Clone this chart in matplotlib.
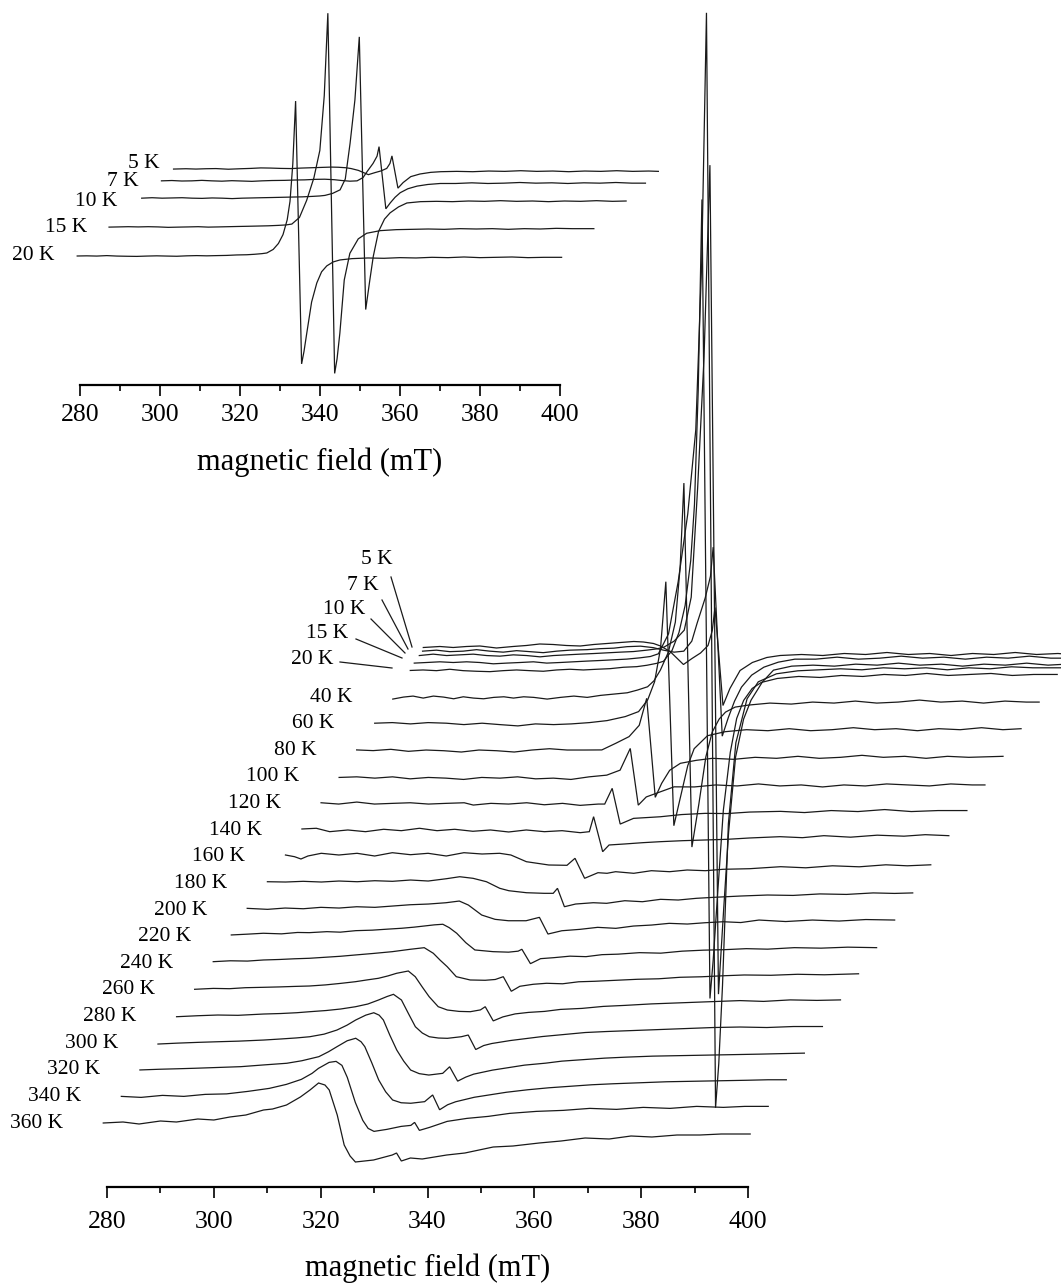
import numpy as np
import matplotlib.pyplot as plt

plt.rcParams['font.family'] = ['Liberation Serif', 'DejaVu Serif']

# ============================================================
# Spectra: (field in mT, signal in a.u.)
# field is the trace's own field, before the waterfall shift
# ============================================================
T5 = [(279.2, 3), (282.3, 4), (284.8, 3), (287.3, 4), (289.8, 4.5), (292.9, 2.5), (296, 4), (298.5, 5),
      (301, 6.5), (303.5, 6), (306, 5), (308.6, 4.5), (311.1, 6), (313.6, 7), (316.1, 8), (318.6, 9),
      (320.4, 8.5), (322.3, 7), (323.6, 4.5), (325.4, -1), (327.9, -14), (329.5, -8), (331.1, -2.5),
      (332.5, 5), (333.3, 20), (333.8, 43), (335.3, -55), (336.6, -38), (338.5, -20), (340.8, -12),
      (343.5, -7), (346, -5), (350, -4), (354, -5), (358, -3), (362, -4), (366, -2), (370, -4), (374, -3),
      (378, -5), (382, -3), (386, -4), (390, -2), (394, -4), (398, -3), (400.4, -4)]
T7 = [(279.4, 2), (282, 3), (284.5, 1.5), (287, 2), (289.5, 3.5), (292, 2), (294.5, 1), (297, 2.5),
      (299.5, 1.5), (302, 0.5), (304.5, 2), (307, 3), (310.2, 3.5), (312.7, 4.5), (315.2, 5), (317.7, 6.5),
      (320.2, 7), (322.6, 5.5), (324.5, 3), (326.5, 1), (328.3, 2), (329.8, 12), (330.8, 30), (332.3, 55),
      (333.3, 77), (333.8, 106), (335.5, -83), (336.6, -65), (337.8, -48), (339.1, -34), (341, -22),
      (343.3, -14), (346, -9), (349.1, -6), (353, -6), (357, -4), (361, -6), (365, -5), (369, -3), (373, -5),
      (377, -4), (381, -6), (385, -4), (389, -5), (393, -3), (397, -5), (400.4, -5)]
T10 = [(279.3, 1.6), (281.9, 3), (284.4, 1.6), (286.9, 2.3), (289.4, 3), (291.9, 1.6), (294.4, 1),
       (296.9, 2.3), (299.4, 1.6), (301.9, 0.3), (304.4, 1.6), (306.9, 2.3), (309.4, 3), (311.9, 3.6),
       (314.4, 4.3), (316.9, 5), (319.4, 5.6), (321.9, 7), (323.8, 8.3), (325.1, 10), (327, 16), (328.9, 27),
       (330.2, 60), (331.4, 169), (332.6, 300), (333.7, 492), (335.3, -337), (336.3, -250), (337.2, -175),
       (338.5, -100), (340, -62), (341.4, -43), (343.5, -25), (345.6, -13), (349, -9), (353, -8), (357, -9),
       (361, -7), (365, -8), (369, -6), (373, -8), (377, -7), (381, -9), (385, -7), (389, -8), (393, -6),
       (397, -8), (400.4, -7)]
T15 = [(279.2, 0.7), (281.5, 1.3), (284, 2), (286.5, 1.3), (289, 2), (291.5, 1.3), (294, 0), (296.5, 0.7),
       (299, 1.3), (301.5, 2), (304, 0.7), (306.5, 1.3), (309, 2), (311.5, 2.7), (314, 3.3), (316.5, 4),
       (319, 4.7), (321.5, 6), (323.4, 7.3), (324.9, 10), (326.8, 30), (328.6, 82), (330.4, 150),
       (331.9, 234), (333, 400), (333.9, 651), (335.6, -444), (336.2, -400), (336.9, -322), (338, -160),
       (339.4, -79), (341.5, -35), (343.6, -18), (347, -10), (351, -7), (355, -6), (359, -5), (363, -6),
       (367, -4), (371, -5), (375, -4), (379, -6), (383, -4), (387, -5), (391, -3), (395, -4), (400.4, -4)]
T20 = [(279.3, 0), (281.7, 0.5), (284.2, -0.2), (286.7, 1.2), (289.2, -0.2), (291.7, -0.8), (294.2, -1.2),
       (296.7, -0.2), (299.2, 0.5), (301.7, -0.2), (304.2, -0.8), (306.7, 0.5), (309.2, 1.2), (311.7, 0.5),
       (314.2, 1.2), (316.7, 1.8), (319.2, 3.2), (321.7, 3.8), (323.6, 5.2), (325.5, 7.2), (326.7, 9.2),
       (328.3, 20), (329.6, 38), (330.75, 65), (331.8, 110), (332.5, 166), (333.2, 280), (333.9, 471),
       (335.4, -328), (336, -290), (336.7, -234), (337.9, -140), (339.2, -82), (340.4, -48), (341.7, -30),
       (343.3, -18), (345, -12), (348, -8), (352, -6), (356, -7), (360, -5), (364, -6), (368, -4), (372, -5),
       (376, -3), (380, -5), (384, -4), (388, -3), (392, -5), (396, -4), (400.4, -4)]
T40 = [(279.4, -2), (281.4, 0), (283.2, 1), (285.1, -1), (287, 1), (288.9, 0), (290.8, -1.7), (292.6, 0.3),
       (294.5, -1), (296.4, -1.7), (298.3, -0.3), (300.2, 0.3), (302, -1), (303.9, 0.3), (305.8, -0.3),
       (308.3, -2), (310.8, -0.3), (313.3, 1), (315.8, -0.3), (318.3, 1.7), (320.8, 3), (323.3, 4.3),
       (325.2, 7), (327.1, 10.3), (328.3, 16.3), (329.5, 27), (331, 45), (332.3, 75), (333.2, 130),
       (333.9, 214), (335.4, -150), (336.7, -107), (338, -60), (339.2, -35), (340.5, -22), (341.7, -15),
       (343.5, -10), (346, -8), (350, -6), (354, -7), (358, -5), (362, -6), (366, -4), (370, -6), (374, -5),
       (378, -3), (382, -5), (386, -4), (390, -6), (394, -4), (398, -5), (400.4, -5)]
T60 = [(279.4, 0.5), (282.7, 1.1), (286.1, -0.2), (289.4, 1.1), (292.8, 0.5), (296.1, -0.9), (299.5, 0.5),
       (302.8, -0.9), (306.2, -2.2), (309.5, -0.2), (312.9, -0.9), (316.2, -0.2), (319.6, 1.1), (322.9, 3.1),
       (326.3, 7.1), (328.8, 12.1), (330.5, 23.8), (331.8, 42), (332.9, 75), (333.9, 142), (335.4, -102),
       (336.7, -72), (338, -42), (339.2, -25), (341.7, -12), (345, -8), (349, -6), (353, -7), (357, -5),
       (361, -7), (365, -6), (369, -4), (373, -6), (377, -5), (381, -7), (385, -5), (389, -6), (393, -4),
       (397, -6), (400.4, -5)]
T80 = [(279.4, 0.4), (282.5, -0.3), (285.8, 1), (289.1, -1), (292.4, 0.3), (295.7, -0.4), (299, -1.7),
       (302.3, 0.3), (305.6, -0.4), (308.9, -1.7), (312.2, 0.3), (315.5, 1.6), (318.8, 0.3), (322.1, 0.3),
       (325.3, 0.4), (327.9, 7), (330.4, 13.7), (332.3, 25), (333.7, 52), (335.3, -47), (336.5, -33),
       (338, -20), (340, -13), (343, -10), (346, -8), (350, -9), (354, -7), (358, -8), (362, -6), (366, -8),
       (370, -7), (374, -5), (378, -7), (382, -6), (386, -8), (390, -6), (394, -7), (400.4, -6)]
T100 = [(279.5, -0.5), (282.8, 0.1), (286.2, -1.2), (289.5, 0.1), (292.8, -1.9), (296.2, -0.5), (299.5, -1.2),
        (302.8, -2.5), (306.2, -0.5), (309.6, -1.2), (312.9, 0.1), (316.3, -1.9), (319.6, -1.2), (322.9, -2.5),
        (326.3, 0.1), (329.6, 1.8), (332.1, 6.8), (334, 28.5), (335.5, -28.2), (337, -20), (338.8, -16.5),
        (342.2, -9.9), (346, -10), (350, -8), (354, -9), (358, -7), (362, -9), (366, -8), (370, -10),
        (374, -8), (378, -9), (382, -7), (386, -8), (390, -9), (394, -7), (398, -8), (400.4, -8)]
T120 = [(279.5, 0.8), (282.8, -0.5), (286.2, 1.5), (289.5, -0.5), (292.9, 0.2), (296.2, 0.8), (299.6, -0.5),
        (302.9, 0.2), (306.3, 0.8), (308, -1.5), (311.3, 0.2), (314.6, -0.5), (318, 0.8), (321.3, -1.2),
        (324.7, 0.2), (328, -1.8), (331.4, -0.5), (332.6, -0.5), (334, 15.2), (335.5, -20.5), (338, -14.8),
        (343, -13.2), (347, -11), (351.4, -9.8), (355.5, -10), (359.7, -8.5), (365.5, -7.8), (370, -9),
        (375, -7), (380, -8), (385, -6), (390, -8), (395, -7), (400.4, -7)]
T140 = [(279.3, 1.2), (282, 1.9), (284.5, -1.5), (287.9, 0.2), (291.2, -1.5), (294.6, 0.9), (297.9, -0.5),
        (301.3, 1.9), (304.6, -0.5), (307.9, 0.9), (311.3, -1.1), (314.6, 0.2), (318, -1.8), (321.3, 0.2),
        (324.7, -1.5), (328, -0.5), (331.4, -2.5), (333.1, -1.5), (333.9, 13.5), (335.6, -21.5),
        (336.8, -14.8), (339.7, -13.8), (343.1, -12.5), (346.4, -11.5), (350.6, -10.5), (354.8, -9.8),
        (359, -9.1), (363.1, -7.8), (368.8, -6.5), (373, -7.5), (377, -5.5), (382, -7), (387, -5), (392, -6),
        (396, -4.5), (400.4, -5.5)]
T160 = [(279.6, 1.8), (281.3, 0.1), (282.5, -2.2), (283.8, 0.8), (286.3, 3.5), (289.6, 1.8), (293, 3.5),
        (296.3, 0.8), (299.6, 4.1), (303, 2.1), (306.3, 3.5), (309.7, 0.8), (313, 4.1), (316.4, 2.8),
        (319.7, 3.5), (321.8, 1.8), (324.7, -4.9), (328.9, -8.2), (332.3, -8.5), (333.8, -1.5), (335.6, -21.5),
        (338.1, -15.9), (339.8, -16.5), (341.4, -14.9), (344.8, -16.5), (348.1, -13.9), (351.5, -14.9),
        (354.8, -13.2), (358.2, -13.9), (361.5, -12.5), (366.5, -11.9), (372.3, -9.9), (377, -11), (382, -9),
        (387, -10), (392, -8), (396, -9), (400.4, -8)]
T180 = [(279.6, 1.7), (283, 1.4), (286.3, 2.1), (289.7, 1.4), (293, 2.4), (296.4, 1.7), (299.7, 2.7),
        (303, 2.1), (306.4, 3.4), (309.7, 2.4), (313.1, 4.7), (315.6, 6.7), (318.1, 5.1), (320.6, 1.7),
        (323.1, -4.9), (324.8, -7.3), (328.1, -9.3), (331.4, -9.9), (333.1, -9.9), (333.9, -4.9),
        (335.2, -23.3), (337.3, -20.6), (340.6, -19.3), (343.1, -19.9), (346.5, -17.3), (349.8, -18.3),
        (353.2, -15.9), (356.5, -16.6), (359.9, -14.9), (363.2, -13.9), (368.2, -12.6), (373.2, -11.6),
        (378, -12), (383, -10.5), (388, -11), (393, -9.5), (397, -10), (400.4, -9.5)]
T200 = [(279.2, 1.7), (283, 0.7), (286.3, 2), (289.7, 1.3), (293, 2.7), (296.4, 2), (299.7, 3.3), (303.1, 2.7),
        (306.4, 4), (309.7, 5.3), (313.1, 6), (316.4, 7.3), (318.9, 9), (320.6, 5), (323.1, -5), (325.6, -9.3),
        (328.1, -10.7), (331.4, -10.7), (333.9, -7.3), (335.5, -24), (338.1, -20.7), (341.5, -19.3),
        (344.8, -17.3), (348.2, -18.3), (351.5, -16), (354.9, -15), (358.2, -13.3), (361.6, -14),
        (364.9, -12.7), (368.3, -11.7), (371.6, -12.5), (375, -10), (380, -11.5), (385, -10), (390, -11),
        (395, -9.5), (400.4, -10)]
T220 = [(279.6, 1.7), (282.6, 2.5), (285.6, 3.4), (289, 2.8), (292, 4.2), (294.2, 4), (297.5, 5), (300, 4.5),
        (302.9, 6), (306, 6.5), (308.8, 7.5), (311.5, 8.4), (313.8, 9.5), (315.8, 10.7), (317.6, 11.8),
        (319.2, 12.4), (320.4, 9), (321.8, 3.4), (323.5, -6), (325.2, -13.3), (328.6, -15), (331.5, -15.5),
        (333.3, -14.5), (334, -12.6), (335.6, -27), (337.5, -22), (340, -21), (343, -19.5), (346, -20),
        (349, -18), (352, -17.5), (356, -16), (360, -16.5), (364, -14.5), (368, -13.5), (372, -13), (376, -12),
        (380, -12.5), (385, -11), (390, -11.5), (395, -10.5), (400.4, -11)]
T240 = [(279.6, 1.6), (282.8, 2.5), (286, 2.2), (289, 3.3), (292, 3.8), (294.8, 4.5), (297.6, 5), (300.5, 6),
        (303.4, 7), (306.2, 8.3), (309.5, 9.8), (313.1, 11.6), (316.5, 14), (319.1, 15.6), (320.8, 10),
        (322.1, 3), (323.4, -3.4), (325.1, -13.4), (327.7, -16.7), (330.5, -17), (332.4, -16.2), (333.9, -13.4),
        (335.4, -28), (337, -23), (339.5, -21), (342, -20), (345, -20.5), (348, -18.5), (351, -18), (355, -17),
        (359, -16), (363, -15.5), (367, -14), (371, -13.5), (375, -12.5), (379, -11.7), (384, -12), (389, -11),
        (394, -11.5), (400.4, -10.5)]
T260 = [(279.5, 0.6), (283, 1.5), (286, 1.2), (289, 2.2), (292.4, 2.6), (295.5, 3), (298.3, 3.5), (301, 3.9),
        (304, 5), (306.8, 6.5), (309.6, 8.2), (311.8, 10), (313.9, 11.6), (315.7, 14), (317.3, 16.6),
        (319.5, 18.9), (320.8, 13.2), (322.1, 3), (323.4, -6.8), (325.1, -16.8), (326.8, -20.1), (329, -21.5),
        (331.1, -21.8), (333, -20), (333.9, -16.8), (335.4, -31), (337.2, -27), (339.5, -24), (342, -22.5),
        (345, -21.5), (348, -19.5), (352, -18.5), (356, -16.5), (360, -15.5), (365, -14), (370, -13),
        (375, -12), (381.6, -10.7), (386, -11.5), (391, -10), (396, -10.5), (400.4, -10)]
T280 = [(279.5, -0.2), (283.5, 0.8), (287.2, 1.5), (291, 1.2), (295.8, 2.5), (299, 3), (302, 3.8), (304.4, 4.8),
        (307.5, 6), (310.2, 7.5), (313, 9.8), (315.3, 12.5), (317.3, 16.5), (318.9, 20), (320.1, 22.2),
        (321.6, 16.5), (322.9, 3), (324.2, -10.2), (325.5, -16.5), (326.8, -20.2), (328.5, -21.5),
        (330.2, -21.8), (332.8, -20.2), (334.1, -18.5), (335.5, -33), (337, -29), (338.5, -27), (342, -24),
        (345, -22), (348, -20), (352, -18), (356, -16), (360, -15), (365, -14), (370, -13), (375, -12),
        (380, -11), (385, -10.5), (390, -11), (395, -10), (400.4, -10)]
T300 = [(279.4, -0.9), (283, 0), (287, 0.8), (290.6, 1.4), (294.5, 2), (299.2, 3.1), (302.5, 4.2), (305.3, 5.2),
        (307.8, 6.4), (310.5, 9), (312.9, 13.1), (314.8, 18), (316.4, 23.1), (318.3, 28), (319.8, 30.4),
        (320.8, 28), (321.6, 23.1), (322.8, 8), (324.1, -6.9), (325.4, -18), (326.7, -26.9), (328.3, -30.5),
        (330.1, -31.9), (332.7, -30.2), (334, -23.6), (335.5, -38), (337, -34), (338.5, -31), (342, -27),
        (345, -24.5), (348, -22), (352, -20), (355, -18), (359, -16.5), (363, -15), (367, -14), (372, -13),
        (377, -12.5), (382, -12), (387, -11.5), (392, -11), (396, -10.5), (400.4, -10)]
T320 = [(279.4, -0.2), (283, 0.5), (286.5, 1), (289.7, 1.5), (293.5, 2.2), (298.3, 3.1), (302.5, 4.8),
        (306.9, 6.5), (309.7, 9), (312.9, 13.1), (314.7, 18), (316.3, 23.1), (318.2, 29), (319.8, 31.5),
        (320.8, 28), (321.5, 23.1), (322.8, 7), (324.1, -10.2), (325.4, -22), (326.7, -30.2), (328.3, -33),
        (330.1, -33.5), (332.7, -31.9), (334.2, -25.2), (335.5, -40), (337, -35), (338.5, -32), (342, -27.5),
        (345, -25), (348, -22.5), (352, -20), (356, -18), (360, -16.5), (364, -15), (368, -14), (373, -13),
        (378, -12), (383, -11.5), (388, -11), (393, -10.5), (397, -10), (400.4, -10)]
T340 = [(279.3, 0), (283, -1), (287, 1), (291, 0), (295, 2), (299, 2.5), (303, 5), (307, 8), (310.2, 12),
        (313, 17), (315, 23), (316.2, 28), (318.2, 34), (319.5, 35), (320.6, 31), (321.6, 19), (323.1, -6),
        (324.5, -24), (325.5, -32), (326.6, -35), (329, -33), (331.7, -30), (333.5, -29), (334.2, -26),
        (335.1, -34), (337, -31), (340.3, -25), (344, -22), (348, -20), (352, -17), (357, -15), (362, -14),
        (367, -12), (372, -13), (377, -11), (382, -12), (387, -10), (392, -11), (396, -10), (400.4, -10)]
T360 = [(279.3, 0), (283, 1), (286, -1), (290, 2), (293, 1), (297, 4), (300, 3), (303, 6), (306, 8),
        (309.3, 13), (311, 14), (313.6, 18), (316.2, 26), (318, 33), (319.6, 40), (320.8, 38), (321.6, 33),
        (323.1, 8), (324.4, -22), (325.5, -33), (326.5, -39), (329.9, -37), (333.4, -32), (334.2, -30),
        (335.1, -38), (336.8, -35), (339, -36), (343.6, -32), (347, -30), (352.3, -24), (356, -23),
        (360.9, -20), (365, -18), (369.5, -15), (374, -16), (378.1, -13), (382, -14), (386.7, -12), (391, -12),
        (395, -11), (400.4, -11)]

temps_main = [5, 7, 10, 15, 20, 40, 60, 80, 100, 120, 140, 160, 180, 200, 220, 240, 260, 280, 300, 320, 340, 360]
spectra_main = [T5, T7, T10, T15, T20, T40, T60, T80, T100, T120, T140, T160, T180, T200, T220, T240,
                T260, T280, T300, T320, T340, T360]
temps_inset = [5, 7, 10, 15, 20]
spectra_inset = [T5, T7, T10, T15, T20]
tick_values = [280, 300, 320, 340, 360, 380, 400]
xlabel_text = "magnetic field (mT)"

# ============================================================
# Layout (pixels of the 1061x1285 canvas)
# ============================================================
W, H = 1061, 1285

# main waterfall
M_X280, M_PPM, M_AXIS_Y = 107, 5.342, 1187
M_BASE_Y, M_DX, M_DY = 1123, 0.903, 1.331      # 360 K baseline, shift per kelvin
M_TREF = 360
# inset
I_X280, I_PPM, I_AXIS_Y = 80, 4.0, 385
I_BASE_Y, I_DX, I_DY = 256, 6.45, 5.73          # 20 K baseline, shift per kelvin
I_TREF = 20
I_YSCALE = 1 / 3.04

# labels of the crowded low-T traces in the main panel: text right/centre, leader line
low_labels = {5: (393, 560, (391, 577), (412, 647)),
              7: (379, 585, (382, 600), (408, 649)),
              10: (365, 610, (371, 619), (405, 653)),
              15: (348, 634, (356, 639), (402, 658)),
              20: (333, 660, (340, 662), (392, 668))}
inset_label_gap = {5: (14, -7), 7: (23, 0), 10: (24, 3), 15: (22, 0), 20: (23, 0)}

LINE_KW = dict(color="#1a1a1a", lw=0.9, clip_on=False, solid_joinstyle="miter")
LABEL_FS = 15.5


def make_panel(fig, x280, ppm, axis_y, tick_pad, label_center_y):
    ax = fig.add_axes([0, (H - axis_y) / H, 1, axis_y / H])
    ax.set_xlim(280 - x280 / ppm, 280 + (W - x280) / ppm)
    ax.set_ylim(H - axis_y, H)
    ax.patch.set_alpha(0)
    for side in ["top", "left", "right"]:
        ax.spines[side].set_visible(False)
    ax.spines["bottom"].set_bounds(280, 400)
    ax.spines["bottom"].set_linewidth(1.6)
    ax.set_yticks([])
    ax.set_xticks(tick_values)
    ax.set_xticks(np.arange(290, 400, 20), minor=True)
    ax.tick_params(axis="x", which="major", direction="out", length=8, width=1.2,
                   labelsize=18.5, pad=tick_pad)
    ax.tick_params(axis="x", which="minor", direction="out", length=4.5, width=1.2)
    ax.set_xlabel(xlabel_text, fontsize=22, va="center")
    # centre the title of the axis under the 280-400 scale
    centre_px = x280 + 60 * ppm
    ax.xaxis.set_label_coords(centre_px / W, -(label_center_y - axis_y) / axis_y)
    return ax


def px_to_data(ax_x280, ppm, px, py):
    return 280 + (px - ax_x280) / ppm, H - py


fig = plt.figure(figsize=(W / 100, H / 100), dpi=100)

# ---------------- main waterfall ----------------
ax = make_panel(fig, M_X280, M_PPM, M_AXIS_Y, tick_pad=9, label_center_y=1268)
for T, spec in zip(temps_main, spectra_main):
    f, a = np.array(spec).T
    dT = M_TREF - T
    x = f + dT * M_DX / M_PPM
    base = (H - M_BASE_Y) + dT * M_DY
    ax.plot(x, base + a, **LINE_KW)
    if T in low_labels:
        rx, cy, p0, p1 = low_labels[T]
        tx, ty = px_to_data(M_X280, M_PPM, rx, cy)
        ax.text(tx, ty, f"{T} K", ha="right", va="center", fontsize=LABEL_FS)
        (x0, y0), (x1, y1) = [px_to_data(M_X280, M_PPM, *p) for p in (p0, p1)]
        ax.plot([x0, x1], [y0, y1], color="#1a1a1a", lw=0.9, clip_on=False)
    else:
        ax.text(x[0] - 40 / M_PPM, base, f"{T} K", ha="right", va="center", fontsize=LABEL_FS)

# ---------------- inset ----------------
axi = make_panel(fig, I_X280, I_PPM, I_AXIS_Y, tick_pad=6, label_center_y=462)
for T, spec in zip(temps_inset, spectra_inset):
    f, a = np.array(spec).T
    dT = I_TREF - T
    x = f + dT * I_DX / I_PPM
    base = (H - I_BASE_Y) + dT * I_DY
    axi.plot(x, base + a * I_YSCALE, **LINE_KW)
    gap, dy = inset_label_gap[T]
    axi.text(x[0] - gap / I_PPM, base - dy, f"{T} K", ha="right", va="center", fontsize=LABEL_FS)

fig.savefig("out.png", dpi=100)
